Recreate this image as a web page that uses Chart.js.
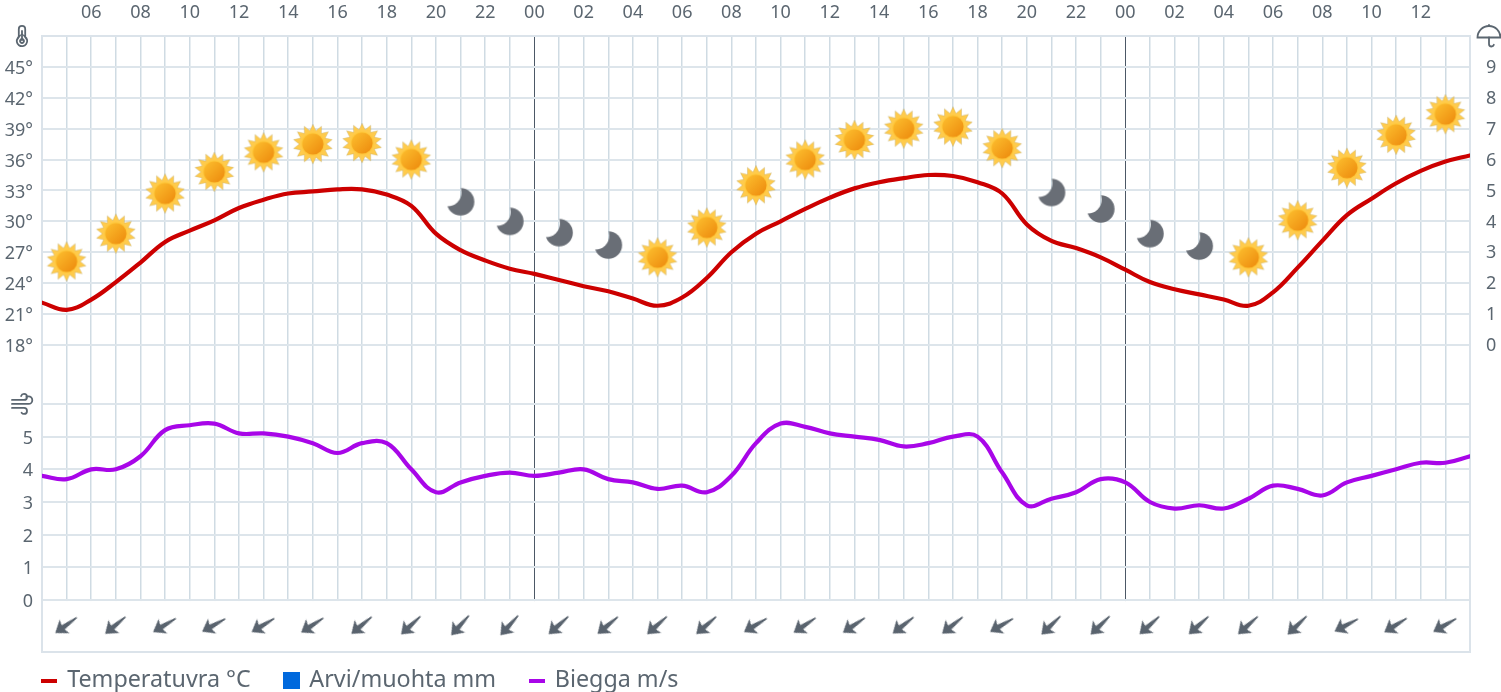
<!DOCTYPE html>
<html><head><meta charset="utf-8">
<style>html,body{margin:0;padding:0;background:#fff}canvas{display:block}</style>
<script src="https://cdn.jsdelivr.net/npm/chart.js@4"></script>
</head><body><canvas id="c" width="1501" height="692"></canvas>
<script>
const hours = [4,5,6,7,8,9,10,11,12,13,14,15,16,17,18,19,20,21,22,23,24,25,26,27,28,29,30,31,32,33,34,35,36,37,38,39,40,41,42,43,44,45,46,47,48,49,50,51,52,53,54,55,56,57,58,59,60,61,62];
const hourLabels = ['','','06','','08','','10','','12','','14','','16','','18','','20','','22','','00','','02','','04','','06','','08','','10','','12','','14','','16','','18','','20','','22','','00','','02','','04','','06','','08','','10','','12','',''];
const temperature = [22.1,21.4,22.4,24.1,26,28,29.1,30.1,31.3,32.1,32.7,32.9,33.1,33.1,32.6,31.5,28.8,27.2,26.2,25.4,24.9,24.3,23.7,23.2,22.5,21.8,22.6,24.5,27,28.8,30,31.2,32.3,33.2,33.8,34.2,34.5,34.4,33.8,32.7,29.7,28.1,27.4,26.5,25.3,24.1,23.4,22.9,22.4,21.8,23.1,25.5,28.1,30.6,32.2,33.7,34.9,35.8,36.4];
const wind = [3.8,3.7,4.0,4.0,4.4,5.2,5.35,5.4,5.1,5.1,5.0,4.8,4.5,4.8,4.8,4.0,3.3,3.6,3.8,3.9,3.8,3.9,4.0,3.7,3.6,3.4,3.5,3.3,3.8,4.8,5.4,5.3,5.1,5.0,4.9,4.7,4.8,5.0,5.0,3.9,2.9,3.1,3.3,3.7,3.6,3.0,2.8,2.9,2.8,3.1,3.5,3.4,3.2,3.6,3.8,4.0,4.2,4.2,4.4];
const rain = [0,0,0,0,0,0,0,0,0,0,0,0,0,0,0,0,0,0,0,0,0,0,0,0,0,0,0,0,0];
const iconHours = [5,7,9,11,13,15,17,19,21,23,25,27,29,31,33,35,37,39,41,43,45,47,49,51,53,55,57,59,61];
const iconTemps = [26.1,28.8,32.7,34.8,36.7,37.5,37.6,36.0,31.9,30.0,28.9,27.7,26.5,29.4,33.5,36.0,37.9,39.0,39.2,37.1,32.8,31.2,28.8,27.6,26.5,30.1,35.2,38.4,40.4];
const iconKinds = ['sun','sun','sun','sun','sun','sun','sun','sun','moon','moon','moon','moon','sun','sun','sun','sun','sun','sun','sun','sun','moon','moon','moon','moon','sun','sun','sun','sun','sun'];
const windDir = [54,50,59,61,59,57,50,47,42,42,48,50,48,49,59,56,56,52,51,60,46,46,48,48,48,46,62,58,60];
const arrowLevel = [-0.76,-0.76,-0.76,-0.76,-0.76,-0.76,-0.76,-0.76,-0.76,-0.76,-0.76,-0.76,-0.76,-0.76,-0.76,-0.76,-0.76,-0.76,-0.76,-0.76,-0.76,-0.76,-0.76,-0.76,-0.76,-0.76,-0.76,-0.76,-0.76];
const tempTicks = [18,21,24,27,30,33,36,39,42,45,48];
const windTicks = [0,1,2,3,4,5,6];
const rainTicks = [0,1,2,3,4,5,6,7,8,9];

const INK = '#5b6670', GRIDV = '#cfdbe3', GRIDH = '#dde5eb', FRAME = '#dbe3ea', FONT = '"Noto Sans", sans-serif';

function mk(w, h, draw) { const c = document.createElement('canvas'); c.width = w; c.height = h; draw(c.getContext('2d'), w, h); return c; }
const sunImg = mk(42, 42, (g, w) => {
  const c = w / 2, n = 14;
  g.beginPath();
  for (let i = 0; i < n * 2; i++) {
    const r = i % 2 ? 13.6 : 19.8, a = -Math.PI / 2 + i * Math.PI / n;
    g[i ? 'lineTo' : 'moveTo'](c + r * Math.cos(a), c + r * Math.sin(a));
  }
  g.closePath(); g.fillStyle = '#ffcb4c'; g.fill();
  g.strokeStyle = 'rgba(170,150,90,.4)'; g.lineWidth = .7; g.stroke();
  g.beginPath(); g.arc(c, c, 11.6, 0, 7); g.fillStyle = '#ffc93c'; g.fill();
  const gr = g.createLinearGradient(c - 8, c - 8, c + 8, c + 8);
  gr.addColorStop(0, '#fbb92b'); gr.addColorStop(1, '#ef8f10');
  g.beginPath(); g.arc(c, c, 10.6, 0, 7); g.fillStyle = gr; g.fill();
});
const moonImg = mk(32, 32, (g, w) => {
  const c = w / 2;
  g.beginPath(); g.arc(c, c, 13.8, 0, 7); g.fillStyle = '#696e76'; g.fill();
  g.globalCompositeOperation = 'destination-out';
  g.beginPath(); g.arc(c - 13, c - 9.5, 14, 0, 7); g.fill();
});
const arrowImg = mk(32, 32, (g) => {
  g.translate(16, 16); g.fillStyle = '#59636e';
  g.beginPath();
  g.moveTo(0, -14); g.lineTo(8.5, -2.5); g.lineTo(2.6, -4.2); g.lineTo(.7, 12.5); g.lineTo(-.7, 12.5); g.lineTo(-2.6, -4.2); g.lineTo(-8.5, -2.5);
  g.closePath(); g.fill();
});
const swatch = (w, h, col) => mk(w, h, (g) => { g.fillStyle = col; g.fillRect(0, 0, w, h); });

const chromePlugin = {
  id: 'chrome',
  beforeInit(chart) {
    const fit = chart.legend.fit;
    chart.legend.fit = function () { fit.call(this); this.height = 40; };
  },
  afterLayout(chart) {
    const a = chart.chartArea;
    chart.legend.left = a.left + 0.5 - 34;
    chart.legend.top = a.bottom + 17 - 34;
    for (const id of ['yT', 'yW']) { const s = chart.scales[id]; s.left = 0; s.right = a.left; s.width = a.left; }
  },
  beforeDatasetsDraw(chart) {
    const a = chart.chartArea, g = chart.ctx, z = chart.scales.yW.getPixelForValue(0);
    g.save();
    g.fillStyle = '#fff'; g.fillRect(a.left, z + 1, a.right - a.left, a.bottom - z - 1);
    g.strokeStyle = FRAME; g.lineWidth = 2;
    g.strokeRect(a.left, a.top, a.right - a.left, a.bottom - a.top);
    g.restore();
  },
  afterDraw(chart) {
    const a = chart.chartArea, g = chart.ctx;
    g.save();
    g.strokeStyle = INK; g.lineWidth = 1.8; g.lineCap = 'round';
    // thermometer
    g.save(); g.translate(a.left - 20, a.top);
    g.beginPath(); g.moveTo(-3.2, 1); g.lineTo(-3.2, -7); g.arc(0, -7, 3.2, Math.PI, 0); g.lineTo(3.2, 1);
    g.arc(0, 5, 5.2, -Math.PI * .3, Math.PI * 1.3); g.closePath(); g.stroke();
    g.beginPath(); g.arc(0, 5, 2, 0, 7); g.moveTo(0, 4); g.lineTo(0, -5); g.stroke();
    g.restore();
    // wind
    const wy = chart.scales.yW.getPixelForValue(6);
    g.save(); g.translate(a.left - 30, wy);
    g.beginPath();
    g.moveTo(0, -4); g.lineTo(12, -4); g.arc(12, -7, 3, Math.PI / 2, -Math.PI * .9, true);
    g.moveTo(0, 0); g.lineTo(16, 0); g.arc(16.5, -3.8, 3.8, Math.PI / 2, -Math.PI * .7, true);
    g.moveTo(0, 4); g.lineTo(12, 4); g.arc(12, 7, 3, -Math.PI / 2, Math.PI * .8);
    g.stroke(); g.restore();
    // umbrella
    g.save(); g.translate(a.right + 19, a.top);
    g.beginPath(); g.arc(0, 1.5, 11.5, Math.PI, 0); g.closePath(); g.stroke();
    g.beginPath(); g.moveTo(0, -10); g.lineTo(0, -11); g.moveTo(0, 1.5); g.lineTo(0, 8); g.arc(2.5, 8, 2.5, Math.PI, Math.PI * .1, true); g.stroke();
    g.restore();
    g.restore();
  }
};

new Chart(document.getElementById('c'), {
  type: 'line',
  plugins: [chromePlugin],
  data: {
    datasets: [
      { label: 'Sky', xAxisID: 'x', yAxisID: 'yT', showLine: false, parsing: false,
        data: iconHours.map((h, i) => ({ x: h, y: iconTemps[i] })),
        pointRadius: 10, pointStyle: c => iconKinds[c.dataIndex] === 'sun' ? sunImg : moonImg },
      { label: 'Direction', xAxisID: 'x', yAxisID: 'yW', showLine: false, parsing: false,
        data: iconHours.map((h, i) => ({ x: h, y: arrowLevel[i] })),
        pointRadius: 10, pointStyle: arrowImg, rotation: c => windDir[c.dataIndex] + 180 },
      { label: 'Temperatuvra °C', xAxisID: 'x', yAxisID: 'yT', parsing: false,
        data: hours.map((h, i) => ({ x: h, y: temperature[i] })),
        borderColor: '#cc0000', borderWidth: 4.2, pointRadius: 0, tension: 0.4, borderCapStyle: 'round' },
      { label: 'Biegga m/s', xAxisID: 'x', yAxisID: 'yW', parsing: false,
        data: hours.map((h, i) => ({ x: h, y: wind[i] })),
        borderColor: '#a806e8', borderWidth: 4.2, pointRadius: 0, tension: 0.4, borderCapStyle: 'round' },
      { type: 'bar', label: 'Arvi/muohta mm', xAxisID: 'x', yAxisID: 'yR', parsing: false,
        data: iconHours.map((h, i) => ({ x: h, y: rain[i] })),
        backgroundColor: '#0069dd', borderWidth: 0 }
    ]
  },
  options: {
    responsive: false, animation: false, events: [], devicePixelRatio: 1,
    layout: { padding: 0 },
    scales: {
      x: {
        type: 'linear', position: 'top', min: hours[0], max: hours[hours.length - 1], offset: false,
        afterBuildTicks: s => { s.ticks = hours.map(v => ({ value: v })); },
        afterFit: s => { s.height = 36; },
        border: { display: false },
        grid: { offset: false, drawTicks: false,
          color: c => (c.tick && (c.tick.value === 24 || c.tick.value === 48)) ? '#4c5866' : GRIDV,
          lineWidth: c => (c.tick && (c.tick.value === 24 || c.tick.value === 48)) ? 1 : 1.5 },
        ticks: { autoSkip: false, maxRotation: 0, padding: 12, color: INK, font: { family: FONT, size: 18 },
          callback: v => hourLabels[hours.indexOf(v)] }
      },
      yT: {
        type: 'linear', position: 'left', min: -11.83, max: 48,
        afterBuildTicks: s => { s.ticks = tempTicks.map(v => ({ value: v })); },
        afterFit: s => { s.width = 21; },
        border: { display: false },
        grid: { drawTicks: false, color: GRIDH, lineWidth: 2 },
        ticks: { autoSkip: false, padding: 9, labelOffset: 2, color: INK, font: { family: FONT, size: 18 },
          callback: v => v === 48 ? '' : v + '°' }
      },
      yW: {
        type: 'linear', position: 'left', min: -1.59, max: 17.26,
        afterBuildTicks: s => { s.ticks = windTicks.map(v => ({ value: v })); },
        afterFit: s => { s.width = 21; },
        border: { display: false },
        grid: { drawTicks: false, color: GRIDH, lineWidth: 2 },
        ticks: { autoSkip: false, padding: 9, labelOffset: 2, color: INK, font: { family: FONT, size: 18 },
          callback: v => v === 6 ? '' : String(v) }
      },
      yR: {
        type: 'linear', position: 'right', min: -9.97, max: 9.97,
        afterBuildTicks: s => { s.ticks = rainTicks.map(v => ({ value: v })); },
        afterFit: s => { s.width = 31; },
        border: { display: false },
        grid: { display: false, drawTicks: false },
        ticks: { autoSkip: false, padding: 16, labelOffset: 2, color: INK, font: { family: FONT, size: 18 },
          callback: v => String(v) }
      }
    },
    plugins: {
      tooltip: { enabled: false },
      title: { display: false },
      legend: {
        position: 'bottom', align: 'start',
        labels: {
          usePointStyle: true, pointStyleWidth: 13, padding: 34, color: INK,
          font: { family: FONT, size: 23.3 },
          generateLabels: () => [
            { text: 'Temperatuvra °C', pointStyle: swatch(16, 4, '#cc0000'), fontColor: INK, datasetIndex: 2 },
            { text: 'Arvi/muohta mm', pointStyle: swatch(17, 17, '#0069dd'), fontColor: INK, datasetIndex: 4 },
            { text: 'Biegga m/s', pointStyle: swatch(16, 4, '#a806e8'), fontColor: INK, datasetIndex: 3 }
          ]
        }
      }
    }
  }
});
</script></body></html>
